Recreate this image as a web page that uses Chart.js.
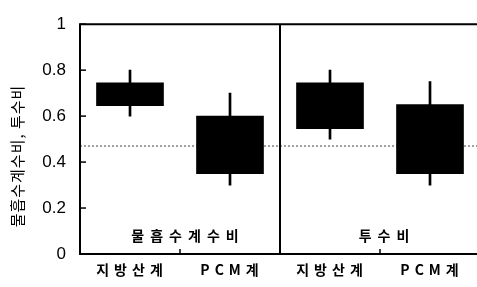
<!DOCTYPE html>
<html>
<head>
<meta charset="utf-8">
<script src="https://cdn.jsdelivr.net/npm/chart.js@4/dist/chart.umd.min.js"></script>
<style>
  body { margin: 0; overflow: hidden; background: #fff; }
</style>
</head>
<body>
<canvas id="myChart" width="480" height="287"></canvas>
<script>
// 데이터
const categories = ['지방산계', 'PCM계', '지방산계', 'PCM계'];
const boxLow = [0.645, 0.35, 0.545, 0.35];
const boxHigh = [0.745, 0.60, 0.745, 0.65];
const errLow = [0.60, 0.30, 0.50, 0.30];
const errHigh = [0.80, 0.70, 0.80, 0.75];
const panelLabels = ['물흡수계수비', '투수비'];
const refLine = 0.472;
const yTicks = [0, 0.2, 0.4, 0.6, 0.8, 1];
const yTitle = '물흡수계수비, 투수비';

const krFont = '"Noto Sans CJK KR", "Liberation Sans", sans-serif';

const boxData = [];
const errData = [];
for (let i = 0; i < categories.length; i++) {
    boxData[i] = [boxLow[i], boxHigh[i]];
    errData[i] = [errLow[i], errHigh[i]];
}

const decor = {
    id: 'decor',
    beforeDatasetsDraw(chart) {
        const ctx = chart.ctx;
        const a = chart.chartArea;
        const y = chart.scales.y;
        ctx.save();
        ctx.strokeStyle = '#444';
        ctx.lineWidth = 1;
        ctx.setLineDash([2, 2]);
        ctx.beginPath();
        ctx.moveTo(a.left, y.getPixelForValue(refLine) + 0.5);
        ctx.lineTo(a.right, y.getPixelForValue(refLine) + 0.5);
        ctx.stroke();
        ctx.restore();
    },
    afterDraw(chart) {
        const ctx = chart.ctx;
        const a = chart.chartArea;
        const x = chart.scales.x;
        const y = chart.scales.y;
        ctx.save();
        ctx.strokeStyle = '#000';
        ctx.lineWidth = 2;
        // 테두리
        ctx.beginPath();
        ctx.moveTo(a.right, a.top);
        ctx.lineTo(a.left, a.top);
        ctx.lineTo(a.left, a.bottom);
        ctx.lineTo(a.right, a.bottom);
        ctx.stroke();
        // 패널 구분선
        const mid = (x.getPixelForValue(1) + x.getPixelForValue(2)) / 2;
        ctx.beginPath();
        ctx.moveTo(mid, a.top);
        ctx.lineTo(mid, a.bottom);
        ctx.stroke();
        // y 눈금
        ctx.lineWidth = 1.5;
        yTicks.forEach(function(v) {
            const py = y.getPixelForValue(v);
            ctx.beginPath();
            ctx.moveTo(a.left, py);
            ctx.lineTo(a.left + 6, py);
            ctx.stroke();
        });
        // x 눈금
        [[0, 1], [2, 3]].forEach(function(p) {
            const px = (x.getPixelForValue(p[0]) + x.getPixelForValue(p[1])) / 2;
            ctx.beginPath();
            ctx.moveTo(px, a.bottom);
            ctx.lineTo(px, a.bottom - 5);
            ctx.stroke();
        });
        // 라벨
        ctx.fillStyle = '#000';
        ctx.textAlign = 'center';
        ctx.textBaseline = 'middle';
        ctx.font = 'bold 14px ' + krFont;
        ctx.letterSpacing = '5px';
        for (let i = 0; i < categories.length; i++) {
            ctx.fillText(categories[i], x.getPixelForValue(i) + 2, 270);
        }
        const c1 = (x.getPixelForValue(0) + x.getPixelForValue(1)) / 2;
        const c2 = (x.getPixelForValue(2) + x.getPixelForValue(3)) / 2;
        ctx.letterSpacing = '6px';
        ctx.fillText(panelLabels[0], c1 + 8, 236);
        ctx.fillText(panelLabels[1], c2 + 7, 236);
        // y 제목
        ctx.letterSpacing = '1px';
        ctx.font = '15px ' + krFont;
        ctx.translate(17, 156);
        ctx.rotate(-Math.PI / 2);
        ctx.fillText(yTitle, 0, 0);
        ctx.restore();
    }
};

const chart = new Chart(document.getElementById('myChart').getContext('2d'), {
    type: 'bar',
    data: {
        labels: categories,
        datasets: [{
            data: boxData,
            backgroundColor: '#000',
            barThickness: 67,
            grouped: false,
            order: 1
        }, {
            data: errData,
            backgroundColor: '#000',
            barThickness: 2,
            grouped: false,
            order: 2
        }]
    },
    options: {
        responsive: false,
        animation: false,
        layout: { padding: { top: 14, right: 0, left: 0, bottom: 0 } },
        plugins: { legend: { display: false }, tooltip: { enabled: false } },
        scales: {
            x: {
                grid: { display: false },
                border: { display: false },
                ticks: { display: false },
                afterFit: function(s) { s.height = 33; }
            },
            y: {
                min: 0,
                max: 1,
                afterBuildTicks: function(s) { s.ticks = yTicks.map(v => ({ value: v })); },
                grid: { display: false, drawTicks: false },
                border: { display: false },
                ticks: {
                    padding: 14,
                    color: '#000',
                    font: { family: '"Liberation Sans", Arial, sans-serif', size: 17 },
                    callback: function(v) { return String(Math.round(v * 10) / 10); }
                },
                afterFit: function(s) { s.width = 80; }
            }
        }
    },
    plugins: [decor]
});
</script>
</body>
</html>
